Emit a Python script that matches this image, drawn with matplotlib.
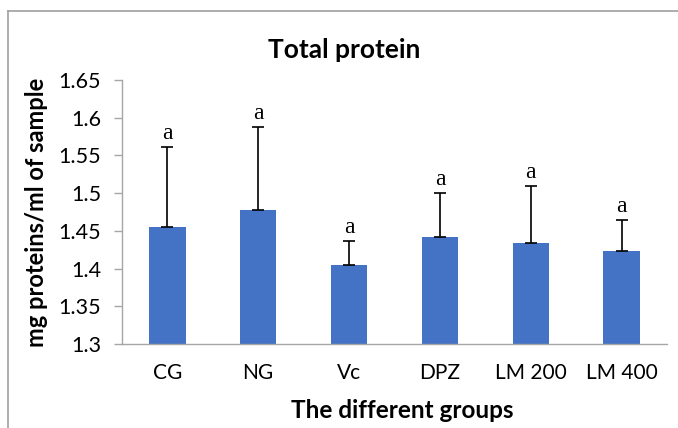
import matplotlib
matplotlib.use("Agg")
import matplotlib.pyplot as plt
from matplotlib.lines import Line2D

categories = ["CG", "NG", "Vc", "DPZ", "LM 200", "LM 400"]
values = [1.455, 1.478, 1.405, 1.442, 1.434, 1.423]
errors = [0.106, 0.110, 0.031, 0.058, 0.075, 0.042]
letters = ["a", "a", "a", "a", "a", "a"]
yticks = [1.3, 1.35, 1.4, 1.45, 1.5, 1.55, 1.6, 1.65]
ytick_labels = ["1.3", "1.35", "1.4", "1.45", "1.5", "1.55", "1.6", "1.65"]

plt.rcParams['font.family'] = ['Lato', 'DejaVu Sans']

fig = plt.figure(figsize=(6.78, 4.28), dpi=100)
ax = fig.add_axes([122/678, 1-344/428, (667-122)/678, (344-80)/428])

x = list(range(len(categories)))
ax.bar(x, [v - 1.3 for v in values], bottom=1.3, width=0.4, color="#4472C4", zorder=2)
ax.errorbar(x, values, yerr=[[0]*len(errors), errors], fmt="none", ecolor="black",
            elinewidth=1.2, capsize=4.5, capthick=1.2, zorder=3)
for xi, v, e, t in zip(x, values, errors, letters):
    ax.text(xi, v + e + 0.004, t, ha="center", va="bottom", fontsize=17,
            family=["Liberation Serif"], color="black")

ax.set_xlim(-0.5, len(categories) - 0.5)
ax.set_ylim(1.3, 1.65)
ax.set_yticks(yticks)
ax.set_yticklabels(ytick_labels, fontsize=15.5)
ax.set_xticks(x)
ax.set_xticklabels(categories, fontsize=15)
ax.tick_params(axis="x", length=0, pad=14)
ax.tick_params(axis="y", length=6, color="#A6A6A6", width=1, pad=9)
for s in ["top", "right"]:
    ax.spines[s].set_visible(False)
for s in ["left", "bottom"]:
    ax.spines[s].set_color("#A6A6A6")
    ax.spines[s].set_linewidth(1)

fig.text(37/678, 1-212/428, "mg proteins/ml of sample", rotation=90, ha="center",
         va="center", fontsize=17, fontweight="bold")
fig.text(402/678, 1-411/428, "The different groups", ha="center", va="center",
         fontsize=17.5, fontweight="bold")
fig.text(344/678, 1-50/428, "Total protein", ha="center", va="center",
         fontsize=19, fontweight="bold")

# outer frame
fig.add_artist(Line2D([8/678, 8/678], [0, 1-11/428], color="#A0A0A0", lw=1.2,
                      transform=fig.transFigure))
fig.add_artist(Line2D([8/678, 1], [1-11/428, 1-11/428], color="#A0A0A0", lw=1.2,
                      transform=fig.transFigure))

fig.savefig("out.png", dpi=100)
